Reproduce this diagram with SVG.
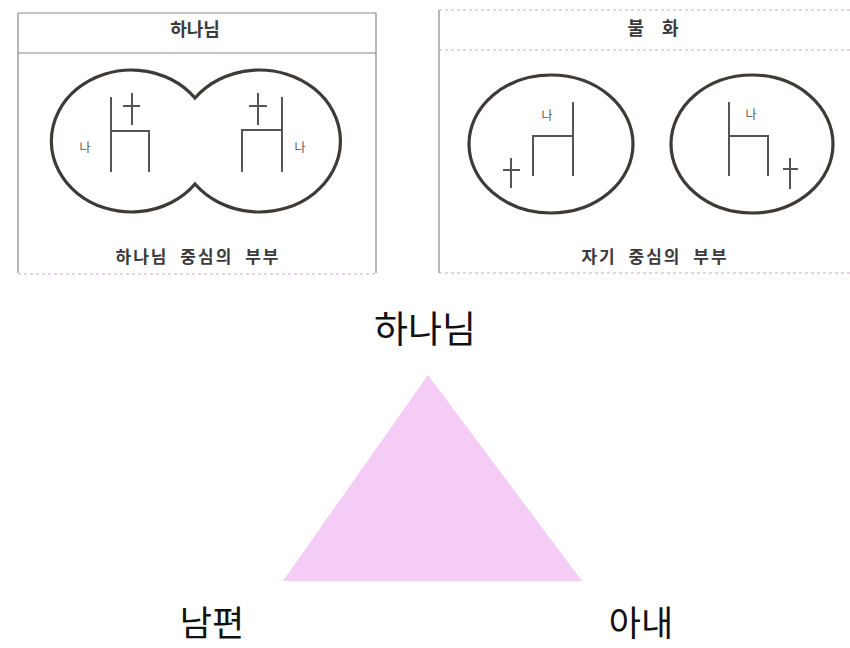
<svg xmlns="http://www.w3.org/2000/svg" width="850" height="648" viewBox="0 0 850 648">
<style>
.frame{fill:none;stroke:#8a8a8a;stroke-width:1.2}
.dash{fill:none;stroke:#c9a9c9;stroke-width:1.2;stroke-dasharray:3 3}
.hdr{font-family:"Noto Sans CJK KR","Noto Sans",sans-serif;font-weight:bold;font-size:18px;fill:#3a3a3a;text-anchor:middle}
.cap{font-family:"Noto Sans CJK KR","Noto Sans",sans-serif;font-weight:bold;font-size:17px;fill:#3a3a3a;text-anchor:middle;letter-spacing:2px;word-spacing:6px}
.me{font-family:"Noto Sans CJK KR","Noto Sans",sans-serif;font-size:12px;fill:#555;text-anchor:middle}
.sym{fill:none;stroke:#555;stroke-width:2}
.ring{fill:none;stroke:#3e3a38;stroke-width:3.2}
.big{font-family:"Noto Sans CJK KR","Noto Sans",sans-serif;font-size:37px;fill:#111;text-anchor:middle}
</style>
<g id="panel-left">
<path class="frame" d="M18,13 H376 V273 M18,13 V273 M18,53 H376"/>
<path class="dash" d="M18,274 H376"/>
<text class="hdr" x="195" y="36">하나님</text>
<path class="ring" d="M195,98 A80,71 0 1 0 195,184 A81,71 0 1 0 195,98 Z"/>
<text class="me" x="85" y="152">나</text>
<path class="sym" d="M111,97 V172 M111,131 H149 V172 M132,93 V125 M123,106 H140"/>
<path class="sym" d="M282,97 V172 M282,130 H242 V172 M258,93 V125 M249,106 H267"/>
<text class="me" x="300" y="152">나</text>
<text class="cap" x="198" y="263">하나님 중심의 부부</text>
</g>
<g id="panel-right">
<path class="frame" d="M439,10 V273"/>
<path class="dash" d="M439,10 H850 M439,50 H850 M439,273 H850"/>
<text class="hdr" x="653" y="35" style="word-spacing:14px">불 화</text>
<ellipse class="ring" cx="551" cy="144" rx="82" ry="69"/>
<text class="me" x="547" y="120">나</text>
<path class="sym" d="M573,102 V176 M573,136 H533 V176 M511,158 V188 M503,170 H520"/>
<ellipse class="ring" cx="752" cy="144" rx="81" ry="69"/>
<text class="me" x="751" y="119">나</text>
<path class="sym" d="M729,102 V176 M729,136 H768 V176 M790,158 V189 M783,169 H798"/>
<text class="cap" x="655" y="263">자기 중심의 부부</text>
</g>
<g id="triangle">
<polygon points="428,375 283,581 582,581" fill="#f5ccf5"/>
</g>
<g id="god"><text class="big" x="425" y="343">하나님</text></g>
<g id="husband"><text class="big" x="212" y="636" style="font-size:35px">남편</text></g>
<g id="wife"><text class="big" x="641" y="636" style="font-size:35px">아내</text></g>
</svg>
